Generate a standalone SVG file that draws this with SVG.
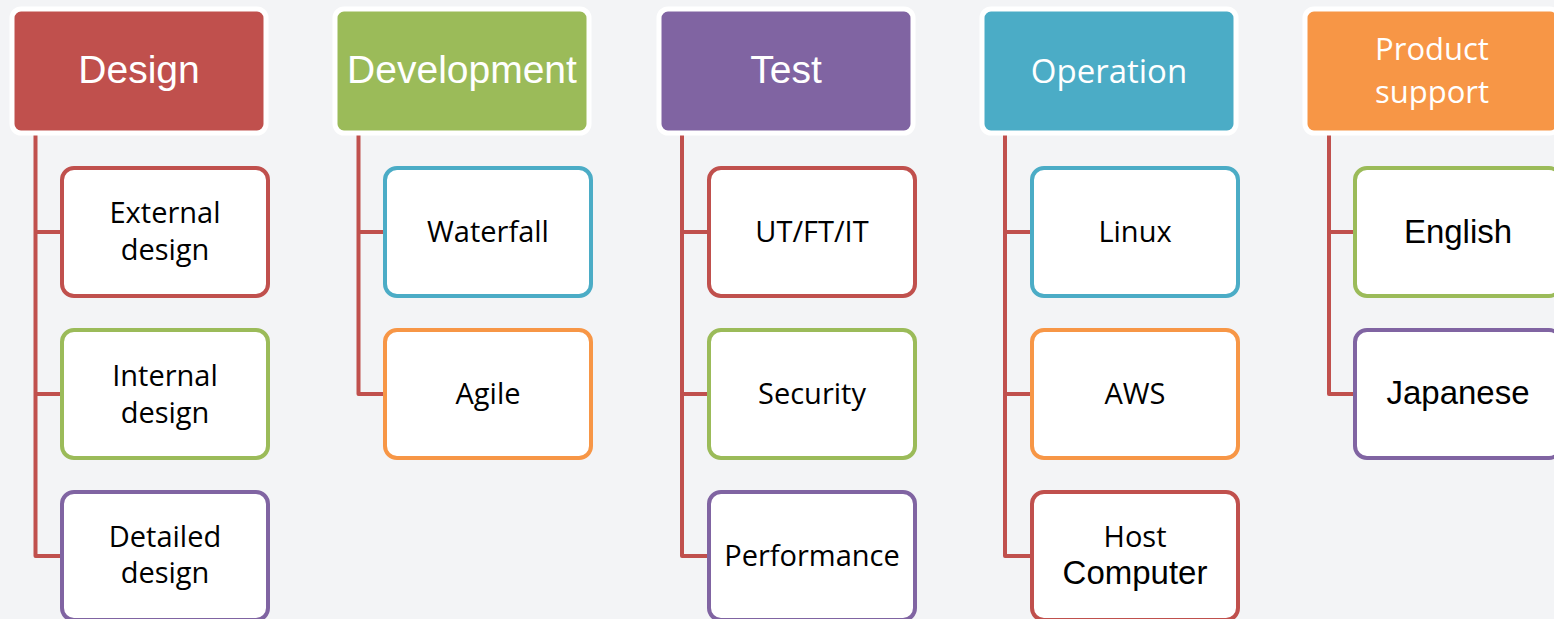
<svg xmlns="http://www.w3.org/2000/svg" width="1554" height="619" viewBox="0 0 1554 619">
<style>
.hd{stroke:#ffffff;stroke-width:5}
.ch{fill:#ffffff;stroke-width:4}
.r{stroke:#c0504d}.g{stroke:#9bbb59}.p{stroke:#8064a2}.b{stroke:#4bacc6}.o{stroke:#f79646}
.ht{fill:#ffffff;font-family:"Liberation Sans",Arial,sans-serif;font-size:39px;text-anchor:middle}
.hc{fill:#ffffff;font-family:"Open Sans",sans-serif;font-size:33px;text-anchor:middle}
.hp{fill:#ffffff;font-family:"Open Sans",sans-serif;font-size:31px;text-anchor:middle}
.ct{fill:#000000;font-family:"Open Sans",sans-serif;font-size:29px;text-anchor:middle}
.ca{fill:#000000;font-family:"Liberation Sans",Arial,sans-serif;font-size:33px;text-anchor:middle}
.cn{fill:none;stroke:#c0504d;stroke-width:4;stroke-linejoin:round}
</style>
<rect width="1554" height="619" fill="#f3f4f6"/>
<g id="connectors">
<path class="cn" d="M35.5,133 V556 H62 M35.5,232 H62 M35.5,394 H62"/>
<path class="cn" d="M358.5,133 V394 H385 M358.5,232 H385"/>
<path class="cn" d="M682,133 V556 H709 M682,232 H709 M682,394 H709"/>
<path class="cn" d="M1005,133 V556 H1032 M1005,232 H1032 M1005,394 H1032"/>
<path class="cn" d="M1329,133 V394 H1355 M1329,232 H1355"/>
</g>
<g id="design">
<rect class="hd" x="12" y="9" width="254" height="124" rx="9" fill="#c0504d"/>
<text class="ht" x="139" y="83">Design</text>
</g>
<g id="external-design">
<rect class="ch r" x="62" y="168" width="206" height="128" rx="12"/>
<text class="ct" x="165" y="223">External</text><text class="ct" x="165" y="260">design</text>
</g>
<g id="internal-design">
<rect class="ch g" x="62" y="330" width="206" height="128" rx="12"/>
<text class="ct" x="165" y="386">Internal</text><text class="ct" x="165" y="423">design</text>
</g>
<g id="detailed-design">
<rect class="ch p" x="62" y="492" width="206" height="128" rx="12"/>
<text class="ct" x="165" y="547">Detailed</text><text class="ct" x="165" y="583">design</text>
</g>
<g id="development">
<rect class="hd" x="335" y="9" width="254" height="124" rx="9" fill="#9bbb59"/>
<text class="ht" x="462" y="83">Development</text>
</g>
<g id="waterfall">
<rect class="ch b" x="385" y="168" width="206" height="128" rx="12"/>
<text class="ct" x="488" y="242">Waterfall</text>
</g>
<g id="agile">
<rect class="ch o" x="385" y="330" width="206" height="128" rx="12"/>
<text class="ct" x="488" y="404">Agile</text>
</g>
<g id="test">
<rect class="hd" x="659" y="9" width="254" height="124" rx="9" fill="#8064a2"/>
<text class="ht" x="786" y="83">Test</text>
</g>
<g id="ut-ft-it">
<rect class="ch r" x="709" y="168" width="206" height="128" rx="12"/>
<text class="ct" x="812" y="242">UT/FT/IT</text>
</g>
<g id="security">
<rect class="ch g" x="709" y="330" width="206" height="128" rx="12"/>
<text class="ct" x="812" y="404">Security</text>
</g>
<g id="performance">
<rect class="ch p" x="709" y="492" width="206" height="128" rx="12"/>
<text class="ct" x="812" y="566">Performance</text>
</g>
<g id="operation">
<rect class="hd" x="982" y="9" width="254" height="124" rx="9" fill="#4bacc6"/>
<text class="hc" x="1109" y="83">Operation</text>
</g>
<g id="linux">
<rect class="ch b" x="1032" y="168" width="206" height="128" rx="12"/>
<text class="ct" x="1135" y="242">Linux</text>
</g>
<g id="aws">
<rect class="ch o" x="1032" y="330" width="206" height="128" rx="12"/>
<text class="ct" x="1135" y="404">AWS</text>
</g>
<g id="host-computer">
<rect class="ch r" x="1032" y="492" width="206" height="128" rx="12"/>
<text class="ct" x="1135" y="547">Host</text><text class="ca" x="1135" y="584">Computer</text>
</g>
<g id="product-support">
<rect class="hd" x="1305" y="9" width="254" height="124" rx="9" fill="#f79646"/>
<text class="hp" x="1432" y="60">Product</text><text class="hp" x="1432" y="103">support</text>
</g>
<g id="english">
<rect class="ch g" x="1355" y="168" width="206" height="128" rx="12"/>
<text class="ca" x="1458" y="243">English</text>
</g>
<g id="japanese">
<rect class="ch p" x="1355" y="330" width="206" height="128" rx="12"/>
<text class="ca" x="1458" y="404">Japanese</text>
</g>
</svg>
